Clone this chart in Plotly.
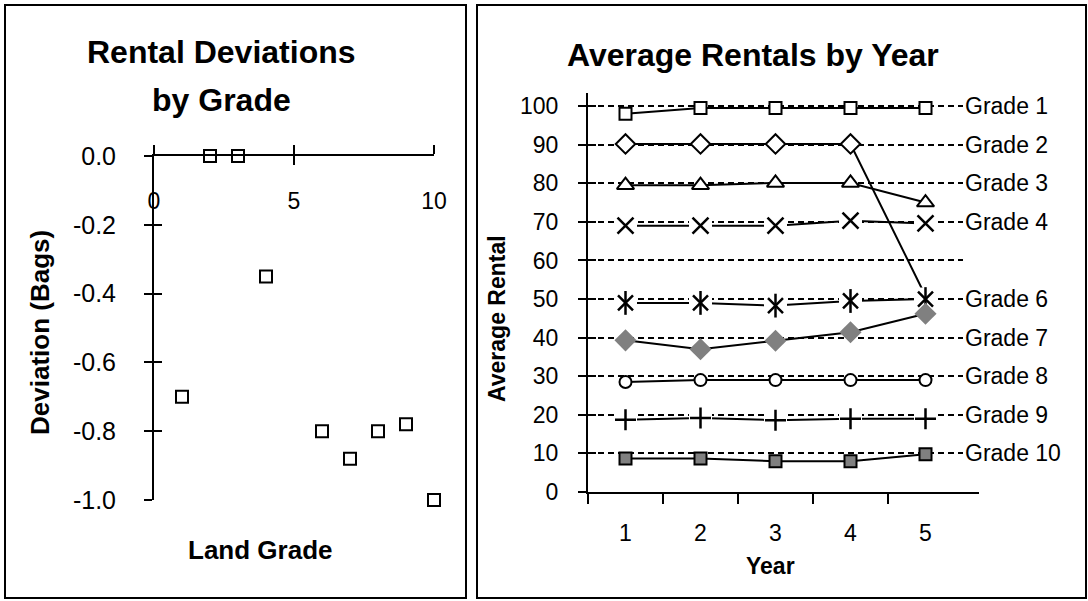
import plotly.graph_objects as go

W, H = 1088, 601
FONT = "Liberation Sans, Arial, sans-serif"

# ---- left panel: rental deviation by land grade ----
grades = [1, 2, 3, 4, 6, 7, 8, 9, 10]
deviation = [-0.70, 0.0, 0.0, -0.35, -0.80, -0.88, -0.80, -0.78, -1.00]
dev_ticks = [0.0, -0.2, -0.4, -0.6, -0.8, -1.0]
dev_ticktext = ["0.0", "-0.2", "-0.4", "-0.6", "-0.8", "-1.0"]
grade_ticks = [0, 5, 10]

# ---- right panel: average rentals by year ----
years = [1, 2, 3, 4, 5]
grade_1 = [98.0, 99.5, 99.5, 99.5, 99.5]
grade_2 = [90.2, 90.2, 90.2, 90.2, 50.8]
grade_3 = [79.5, 79.5, 80.1, 80.1, 75.0]
grade_4 = [69.0, 69.0, 69.0, 70.3, 69.6]
grade_6 = [49.0, 49.0, 48.3, 49.5, 50.0]
grade_7 = [39.3, 37.0, 39.2, 41.4, 46.2]
grade_8 = [28.5, 29.0, 29.0, 29.0, 29.0]
grade_9 = [18.7, 19.2, 18.6, 19.0, 19.0]
grade_10 = [8.7, 8.7, 8.0, 8.0, 9.8]
rental_ticks = [0, 10, 20, 30, 40, 50, 60, 70, 80, 90, 100]
year_ticks = [1, 2, 3, 4, 5]
year_boundaries = [0.5, 1.5, 2.5, 3.5, 4.5]
grade_label_vals = [100, 90, 80, 70, 60, 50, 40, 30, 20, 10]
grade_label_text = ["Grade 1", "Grade 2", "Grade 3", "Grade 4", "",
                    "Grade 6", "Grade 7", "Grade 8", "Grade 9", "Grade 10"]


def px_x(p):
    return p / W


def px_y(p):
    return 1 - p / H


GRAY = "#808080"
fig = go.Figure()

# left scatter
fig.add_trace(go.Scatter(
    x=grades, y=deviation, mode="markers", xaxis="x", yaxis="y",
    marker=dict(symbol="square", size=12, color="white",
                line=dict(color="black", width=2)),
    cliponaxis=False, showlegend=False, hoverinfo="skip"))

# empty traces so every helper axis (crossing ticks, labels, dashed grid) is drawn
for xa, ya in [("x2", "y"), ("x", "y2"), ("x3", "y3"), ("x4", "y4"),
               ("x6", "y5"), ("x5", "y6")]:
    fig.add_trace(go.Scatter(x=[], y=[], xaxis=xa, yaxis=ya,
                             showlegend=False, hoverinfo="skip"))

line_style = dict(color="black", width=2)


def series(values, marker, name, mode="lines+markers"):
    fig.add_trace(go.Scatter(
        x=years[:len(values)], y=values, mode=mode, name=name,
        xaxis="x5", yaxis="y5", line=line_style, marker=marker,
        cliponaxis=False, showlegend=False, hoverinfo="skip"))


def stroked_series(values, strokes, name):
    """Line, then a white backing square, then the stroke-only symbol(s)."""
    series(values, dict(size=1), name, mode="lines")
    series(values, dict(symbol="square", size=23, color="white",
                        line=dict(width=0)), name, mode="markers")
    for symbol, size in strokes:
        series(values, dict(symbol=symbol, size=size, color="black",
                            line=dict(color="black", width=2.5)), name, mode="markers")


series(grade_1, dict(symbol="square", size=12, color="white",
                     line=dict(color="black", width=2)), "Grade 1")
# Grade 2: the final year has no marker of its own
series(grade_2, dict(size=1), "Grade 2", mode="lines")
series(grade_2[:4], dict(symbol="diamond", size=15, color="white",
                         line=dict(color="black", width=2)), "Grade 2", mode="markers")
series(grade_3, dict(symbol="triangle-up", size=15, color="white",
                     line=dict(color="black", width=2)), "Grade 3")
stroked_series(grade_4, [("x-thin-open", 16)], "Grade 4")
# six-armed star: diagonal cross plus a vertical stroke
stroked_series(grade_6, [("x-thin-open", 15), ("line-ns-open", 17)], "Grade 6")
series(grade_7, dict(symbol="diamond", size=17, color=GRAY,
                     line=dict(width=0)), "Grade 7")
series(grade_8, dict(symbol="circle", size=12, color="white",
                     line=dict(color="black", width=2)), "Grade 8")
stroked_series(grade_9, [("cross-thin-open", 15)], "Grade 9")
series(grade_10, dict(symbol="square", size=12, color=GRAY,
                      line=dict(color="black", width=2)), "Grade 10")

tick_font = dict(family=FONT, size=23, color="black")
left_tick_font = dict(family=FONT, size=25, color="black")
axis_common = dict(showgrid=False, zeroline=False, linecolor="black",
                   tickcolor="black", tickwidth=2, tickfont=tick_font,
                   automargin=False)

left_xdom = [px_x(154), px_x(434)]
left_ydom = [px_y(500), px_y(156)]
right_ydom = [px_y(492), px_y(93)]
right_xmax = 0.5 + (979 - 588) / 75.0

fig.update_layout(
    width=W, height=H,
    margin=dict(l=0, r=0, t=0, b=0, autoexpand=False),
    paper_bgcolor="white", plot_bgcolor="rgba(0,0,0,0)",
    font=dict(family=FONT, color="black"),
    showlegend=False,
    # left panel axes
    xaxis=dict(axis_common, domain=left_xdom, range=[0, 10], anchor="y", side="top",
               showline=True, linewidth=2, tickvals=grade_ticks, ticks="outside",
               ticklen=9, showticklabels=False),
    xaxis2=dict(axis_common, overlaying="x", range=[0, 10], anchor="y", side="top",
                showline=False, tickvals=grade_ticks, ticks="inside", ticklen=9,
                showticklabels=False),
    yaxis=dict(axis_common, domain=left_ydom, range=[-1.0, 0.0], anchor="x",
               showline=True, linewidth=2, tickvals=dev_ticks, ticktext=dev_ticktext,
               ticks="outside", ticklen=8, ticklabelstandoff=23,
               tickfont=left_tick_font),
    yaxis2=dict(axis_common, overlaying="y", range=[-1.0, 0.0], anchor="x",
                showline=False, tickvals=dev_ticks, ticks="inside", ticklen=8,
                showticklabels=False),
    # grade numbers sit below the axis line, which crosses at zero deviation
    xaxis3=dict(axis_common, domain=left_xdom, range=[0, 10], anchor="y3",
                side="bottom", showline=False, tickvals=grade_ticks, ticks=""),
    yaxis3=dict(domain=[px_y(185), px_y(183)], anchor="x3", visible=False,
                automargin=False),
    # right panel: dashed grid with grade labels
    xaxis4=dict(domain=[px_x(588), px_x(963)], range=[0.5, 5.5], anchor="y4",
                visible=False, automargin=False),
    yaxis4=dict(domain=right_ydom, range=[0, 103.4], anchor="x4", side="right",
                showgrid=True, gridcolor="black", gridwidth=1.5, griddash="6px,4px",
                zeroline=False, showline=False, ticks="", automargin=False,
                tickvals=grade_label_vals, ticktext=grade_label_text,
                tickfont=tick_font, ticklabelstandoff=1),
    # right panel: data axes
    xaxis5=dict(axis_common, domain=[px_x(588), px_x(979)], range=[0.5, right_xmax],
                anchor="y5", showline=True, linewidth=2, tickvals=year_boundaries,
                ticks="outside", ticklen=10, showticklabels=False),
    xaxis6=dict(axis_common, overlaying="x5", range=[0.5, right_xmax], anchor="y5",
                showline=False, tickvals=year_ticks, ticks="", ticklabelstandoff=25),
    yaxis5=dict(axis_common, domain=right_ydom, range=[0, 103.4], anchor="x5",
                showline=True, linewidth=2, tickvals=rental_ticks, ticks="outside",
                ticklen=8, ticklabelstandoff=15),
    yaxis6=dict(axis_common, overlaying="y5", range=[0, 103.4], anchor="x5",
                showline=False, tickvals=rental_ticks, ticks="inside", ticklen=8,
                showticklabels=False),
)

title_font = dict(family=FONT, size=32, color="black")
left_lab_font = dict(family=FONT, size=26, color="black")
right_lab_font = dict(family=FONT, size=23, color="black")


def label(text, x, y, font, angle=0):
    fig.add_annotation(text=text, x=px_x(x), y=px_y(y), xref="paper", yref="paper",
                       showarrow=False, xanchor="center", yanchor="middle",
                       font=font, textangle=angle)


label("<b>Rental Deviations</b>", 221, 52, title_font)
label("<b>by Grade</b>", 221, 100, title_font)
label("<b>Deviation (Bags)</b>", 40, 333, left_lab_font, -90)
label("<b>Land Grade</b>", 260, 550, left_lab_font)
label("<b>Average Rentals by Year</b>", 753, 55, title_font)
label("<b>Average Rental</b>", 497, 319, right_lab_font, -90)
label("<b>Year</b>", 770, 566, right_lab_font)

# panel frames
for x0, x1 in [(5, 466), (477, 1086)]:
    fig.add_shape(type="rect", xref="paper", yref="paper",
                  x0=px_x(x0), x1=px_x(x1), y0=px_y(598), y1=px_y(5),
                  line=dict(color="black", width=2), fillcolor="rgba(0,0,0,0)")

fig.write_html("out.html")
